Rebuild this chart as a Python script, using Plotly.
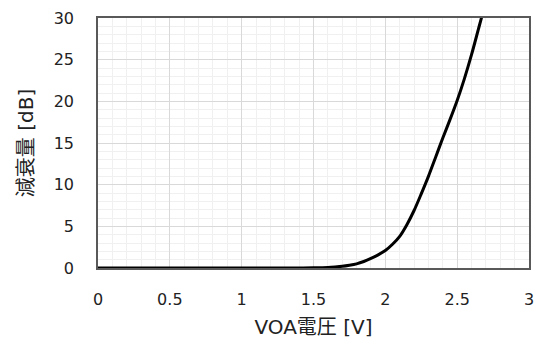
import plotly.graph_objects as go

voltage = [0.0, 0.5, 1.0, 1.4, 1.5, 1.55, 1.6, 1.65, 1.7, 1.75, 1.8, 1.85, 1.9, 1.95,
           2.0, 2.05, 2.1, 2.15, 2.2, 2.25, 2.3, 2.35, 2.4, 2.45, 2.5, 2.55, 2.6,
           2.65, 2.7]
attenuation = [0, 0, 0, 0, 0.02, 0.04, 0.06, 0.12, 0.2, 0.33, 0.5, 0.78, 1.15, 1.58,
               2.1, 2.85, 3.8, 5.2, 6.9, 8.9, 11.0, 13.3, 15.6, 17.8, 20.1, 22.7, 25.6,
               28.8, 32.0]

x_ticks = [0, 0.5, 1, 1.5, 2, 2.5, 3]
x_tick_labels = ["0", "0.5", "1", "1.5", "2", "2.5", "3"]
y_ticks = [0, 5, 10, 15, 20, 25, 30]

font_family = "DejaVu Sans, Noto Sans CJK JP"

fig = go.Figure()
fig.add_trace(go.Scatter(
    x=voltage, y=attenuation, mode="lines",
    line=dict(color="black", width=3, shape="spline", smoothing=0.8),
    showlegend=False, cliponaxis=True,
))

fig.update_layout(
    width=542, height=342,
    margin=dict(l=98, r=13, t=18, b=74),
    paper_bgcolor="white", plot_bgcolor="white",
    font=dict(family=font_family, color="#222222", size=16),
)
fig.update_xaxes(
    range=[0, 3], tickvals=x_ticks, ticktext=x_tick_labels,
    showgrid=True, gridcolor="#d9d9d9", gridwidth=1,
    minor=dict(dtick=0.1, showgrid=True, gridcolor="#f0f0f0", gridwidth=1),
    showline=True, mirror=True, linecolor="#595959", linewidth=1.5,
    zeroline=False, ticks="", ticklabelstandoff=16, automargin=False,
    title=dict(text="VOA電圧 [V]", font=dict(size=20, family=font_family), standoff=12),
    tickfont=dict(size=16),
)
fig.update_yaxes(
    range=[0, 30], tickvals=y_ticks,
    showgrid=True, gridcolor="#d9d9d9", gridwidth=1,
    minor=dict(dtick=1, showgrid=True, gridcolor="#f0f0f0", gridwidth=1),
    showline=True, mirror=True, linecolor="#595959", linewidth=1.5,
    zeroline=False, ticks="", ticklabelstandoff=19, automargin=False,
    title=dict(text="減衰量 [dB]", font=dict(size=20, family=font_family), standoff=15),
    tickfont=dict(size=16),
)

fig.write_html("out.html")
